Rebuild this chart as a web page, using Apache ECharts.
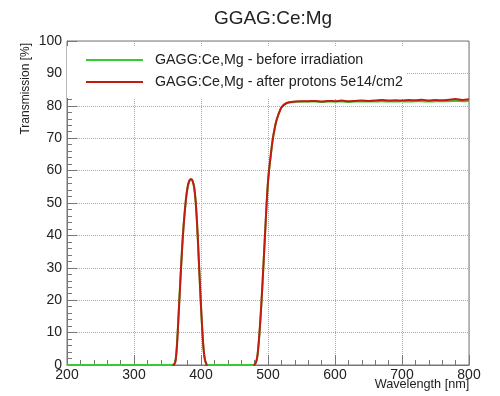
<!DOCTYPE html>
<html><head><meta charset="utf-8">
<script src="https://cdn.jsdelivr.net/npm/echarts@6/dist/echarts.min.js"></script>
<style>html,body{margin:0;padding:0;background:#fff}#c{width:500px;height:396px}</style>
</head><body><div id="c"></div>
<script>
var FONT = 'Liberation Sans, Arial, sans-serif';
var title = 'GGAG:Ce:Mg';
var seriesNames = ['GAGG:Ce,Mg - before irradiation', 'GAGG:Ce,Mg - after protons 5e14/cm2'];
var xTicks = [200, 300, 400, 500, 600, 700, 800];
var yTicks = [0, 10, 20, 30, 40, 50, 60, 70, 80, 90, 100];

var wavelength = [200,250,300,340,355,360,362,364,366,368,370,372,374,376,378,380,382,384,386,388,390,392,394,396,398,400,402,404,406,408,410,420,450,470,478,480,482,484,486,488,490,492,494,496,498,500,502,504,506,508,510,512,515,518,520,525,530,535,540,550,
560,570,580,590,600,610,620,630,640,650,660,670,680,690,700,710,720,730,740,750,760,770,780,790,800];

var before = [0,0,0,0,0,0.3,1.5,6,13.5,21.5,29.5,37,43,48,52,54.8,56.4,57.1,57.2,56.4,54.5,50.5,44,35.5,26.5,18,10.5,4.5,1.5,0.3,0,0,0,0,0,0.2,0.8,2.5,6.5,12,18.5,26,34,42,50,56.5,61,64.5,68,70.8,73,75,77,78.6,79.4,80.4,80.9,81.1,81.2,81.3,
81.3,81.3,81.2,81.3,81.3,81.3,81.2,81.3,81.3,81.3,81.3,81.4,81.3,81.3,81.4,81.3,81.4,81.4,81.3,81.4,81.4,81.4,81.5,81.4,81.5];

var after = [-1,-1,-1,-1,-1,0.2,1.2,5.5,13,21,29,36.5,42.8,47.8,52,54.9,56.6,57.3,57.3,56.5,54.6,50.6,44.2,35.8,26.8,18.2,10.6,4.6,1.5,0.3,-1,-1,-1,-1,-1,0.2,0.8,2.5,6.5,12,18.5,26,34,42,50,56.5,61,64.5,68,70.8,73,75,77,78.6,79.5,80.5,81,81.2,81.3,81.4,
81.4,81.5,81.3,81.5,81.4,81.6,81.4,81.5,81.6,81.5,81.6,81.8,81.6,81.7,81.6,81.8,81.7,81.9,81.6,81.8,81.7,81.9,82.1,81.8,82.0];

function pairs(xs, ys){ return xs.map(function(x,i){ return [x, ys[i]]; }); }

var chart = echarts.init(document.getElementById('c'), null, {renderer:'canvas'});
chart.setOption({
  animation: false,
  backgroundColor: '#fff',
  title: {text: title, left: 268, top: 4, textAlign: 'center',
    textStyle: {fontFamily: FONT, fontSize: 19, fontWeight: 'normal', color: '#222'}},
  grid: {left: 67, right: 31, top: 41, bottom: 31, containLabel: false, outerBoundsMode: 'none',
    show: true, borderColor: '#777', borderWidth: 1, backgroundColor: 'transparent'},
  legend: {
    orient: 'vertical', left: 67, top: 46,
    padding: [7, 4, 9, 19], itemGap: 8, itemWidth: 57, itemHeight: 2, icon: 'rect',
    backgroundColor: '#fff',
    data: seriesNames,
    textStyle: {fontFamily: FONT, fontSize: 14.25, color: '#222', padding: [0,0,0,7]}
  },
  xAxis: {
    type: 'value', min: xTicks[0], max: xTicks[xTicks.length-1], interval: 100,
    name: 'Wavelength [nm]', nameLocation: 'middle', nameGap: 13, nameMoveOverlap: false,
    nameTextStyle: {fontFamily: FONT, fontSize: 12.7, color: '#222', align: 'center', verticalAlign: 'top', padding: [0,0,0,308]},
    axisLine: {show: true, lineStyle: {color: '#777', width: 1}},
    axisTick: {show: true, inside: true, length: 10, lineStyle: {color: '#777'}},
    minorTick: {show: true, splitNumber: 5, length: 5, lineStyle: {color: '#777'}},
    axisLabel: {fontFamily: FONT, fontSize: 14, color: '#222', margin: 3},
    splitLine: {show: true, lineStyle: {color: '#aaa', type: 'dotted', width: 1}}
  },
  yAxis: {
    type: 'value', min: yTicks[0], max: yTicks[yTicks.length-1], interval: 10,
    name: 'Transmission [%]', nameLocation: 'end', nameGap: -2, nameRotate: 90, nameMoveOverlap: false,
    nameTextStyle: {fontFamily: FONT, fontSize: 12, color: '#222', align: 'right', verticalAlign: 'bottom', padding: [0,0,35,0]},
    axisLine: {show: true, lineStyle: {color: '#777', width: 1}},
    axisTick: {show: true, inside: true, length: 10, lineStyle: {color: '#777'}},
    minorTick: {show: true, splitNumber: 5, length: 5, lineStyle: {color: '#777'}},
    axisLabel: {fontFamily: FONT, fontSize: 14, color: '#222', margin: 5},
    splitLine: {show: true, lineStyle: {color: '#aaa', type: 'dotted', width: 1}}
  },
  series: [
    {name: seriesNames[0], type: 'line', data: pairs(wavelength, before), symbol: 'none', showSymbol: false,
      smooth: 0.3, lineStyle: {color: '#33cc33', width: 2}, itemStyle: {color: '#33cc33'}, z: 2, clip: true},
    {name: seriesNames[1], type: 'line', data: pairs(wavelength, after), symbol: 'none', showSymbol: false,
      smooth: 0.3, lineStyle: {color: '#c41a12', width: 2}, itemStyle: {color: '#c41a12'}, z: 3, clip: true}
  ]
});
</script></body></html>
